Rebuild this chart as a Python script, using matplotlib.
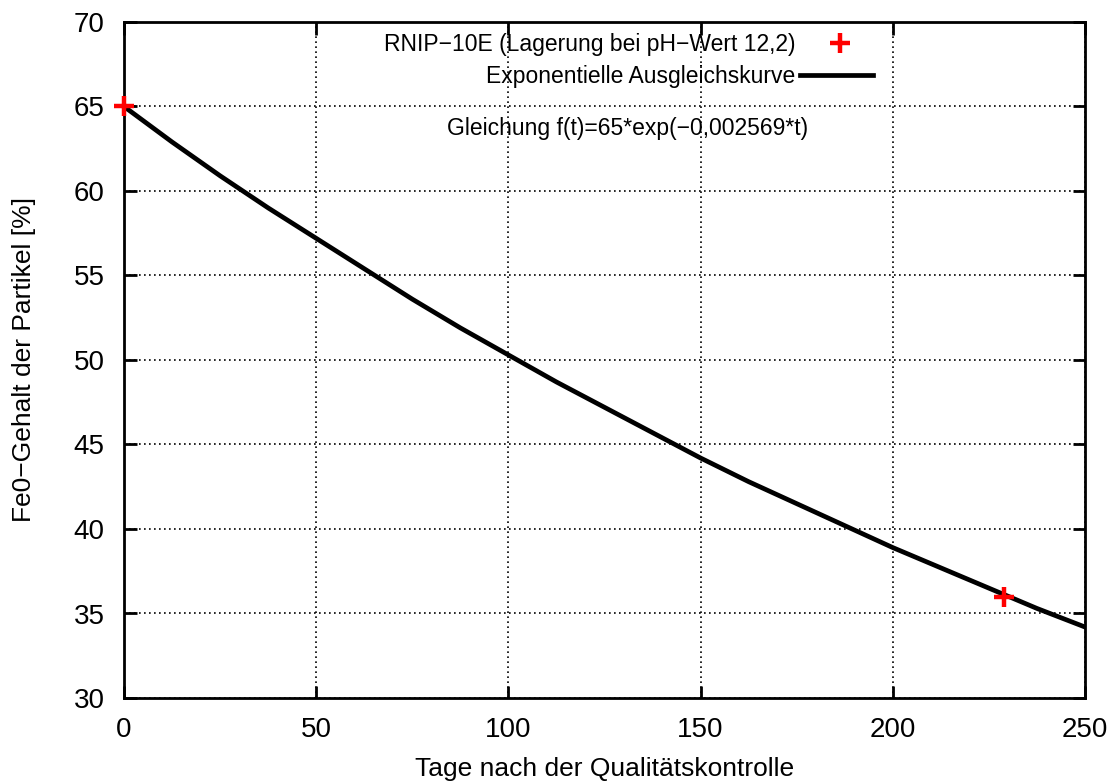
import matplotlib
matplotlib.use("Agg")
import matplotlib.pyplot as plt

# Data
days_meas = [0, 229]
fe0_meas = [65.0, 36.0]

days_fit = [0, 12.5, 25, 37.5, 50, 62.5, 75, 87.5, 100, 112.5, 125, 137.5, 150,
            162.5, 175, 187.5, 200, 212.5, 225, 237.5, 250]
fe0_fit = [65.0, 62.9, 60.9, 59.0, 57.2, 55.4, 53.6, 51.9, 50.3, 48.7, 47.2,
           45.7, 44.2, 42.8, 41.5, 40.2, 38.9, 37.7, 36.5, 35.3, 34.2]

x_ticks = [0, 50, 100, 150, 200, 250]
y_ticks = [30, 35, 40, 45, 50, 55, 60, 65, 70]

label_meas = "RNIP\u221210E (Lagerung bei pH\u2212Wert 12,2)"
label_fit = "Exponentielle Ausgleichskurve"
equation = "Gleichung f(t)=65*exp(\u22120,002569*t)"
xlabel = "Tage nach der Qualitätskontrolle"
ylabel = "Fe0\u2212Gehalt der Partikel [%]"

plt.rcParams['font.family'] = ['Liberation Sans', 'DejaVu Sans']

fig = plt.figure(figsize=(11.2, 7.83), dpi=100)
ax = fig.add_axes([124/1120, 1 - 698/783, (1085-124)/1120, (698-22)/783])

ax.plot(days_fit, fe0_fit, color='black', lw=3.4, zorder=3)
ax.plot(days_meas, fe0_meas, linestyle='none', marker='+', color='red',
        markersize=15, markeredgewidth=3.2, zorder=4, clip_on=False)

ax.set_xlim(0, 250)
ax.set_ylim(30, 70)
ax.set_xticks(x_ticks)
ax.set_yticks(y_ticks)
ax.grid(True, color='black', linestyle=(0, (1, 2)), lw=1.2)
for s in ax.spines.values():
    s.set_linewidth(2)
ax.tick_params(direction='in', length=9, width=2, top=True, right=True,
               labelsize=20)
ax.tick_params(axis='y', pad=14)
ax.tick_params(axis='x', pad=14)
ax.set_xlabel(xlabel, fontsize=19, labelpad=10)
ax.set_ylabel(ylabel, fontsize=19, labelpad=27)

# Legend (gnuplot style: right-aligned text, sample at right)
def fx(px):
    return (px - 124) / (1085 - 124)

def fy(py):
    return 1 - (py - 22) / (698 - 22)

ax.text(fx(795), fy(44), label_meas, transform=ax.transAxes, ha='right',
        va='center', fontsize=16.5)
ax.plot([fx(840)], [fy(43)], transform=ax.transAxes, marker='+', color='red',
        markersize=15, markeredgewidth=3.2, clip_on=False)
ax.text(fx(795), fy(76), label_fit, transform=ax.transAxes, ha='right',
        va='center', fontsize=16.5)
ax.plot([fx(800), fx(873)], [fy(75), fy(75)], transform=ax.transAxes,
        color='black', lw=3.4)
ax.text(fx(628), fy(128), equation, transform=ax.transAxes, ha='center',
        va='center', fontsize=16.5)

fig.savefig("out.png", dpi=100)
